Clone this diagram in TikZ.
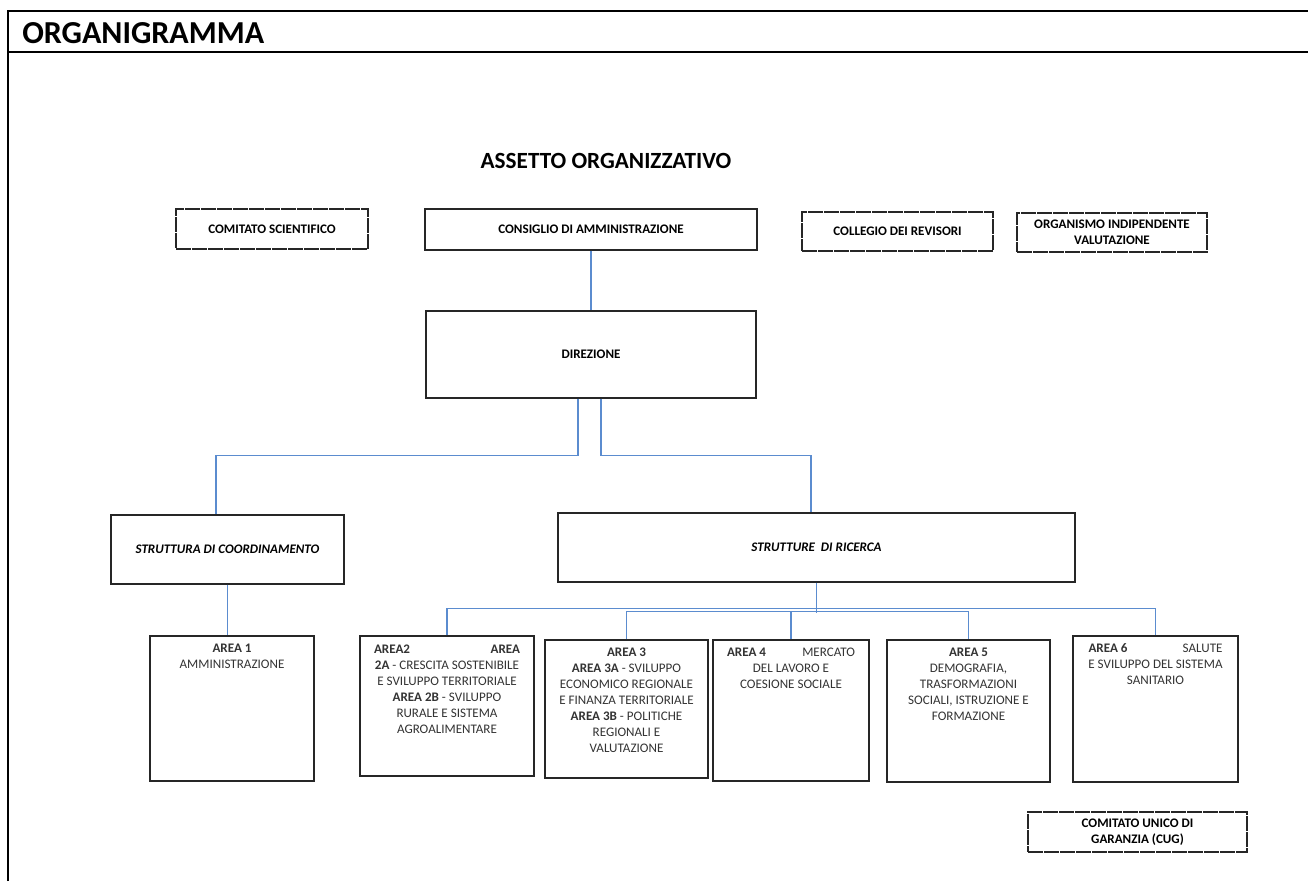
\documentclass[tikz,border=0pt]{standalone}
\usepackage{fontspec}
\setmainfont{Carlito}
\usepackage{tikz}
\usetikzlibrary{calc}

\begin{document}
\begin{tikzpicture}
		[x=0.75pt,y=-0.75pt,
		%Styles
		frame/.style={black,line width=1.9pt},
		box/.style={draw=black!85,line width=0.9pt,inner sep=0pt,align=center,font=\boxfont},
		dashbox/.style={box,dash pattern=on 11pt off 1pt},
		boxsize/.style 2 args={minimum width=#1*0.75pt,minimum height=#2*0.75pt},
		areatext/.style={anchor=north,align=center,inner sep=0pt,text=black!80,font=\areafont},
		link/.style={draw=linkblue,line width=0.8pt}
		]
		
		%Colors and fonts
		\definecolor{linkblue}{RGB}{91,140,207}	%connectors
		\newcommand{\boxfont}{\fontsize{9.8}{12}\selectfont\bfseries}
		\newcommand{\areafont}{\fontsize{9.8}{12}\selectfont}
		\newcommand{\spreadline}[3]{\makebox[#1][s]{#2\hfill #3}}
		
		\useasboundingbox (0,0) rectangle (1308,881);
		
		%Frame and titles
		\draw[frame] (8,881) -- (8,11) -- (1308,11);
		\draw[frame] (8,52) -- (1308,52);
		\node[anchor=west,inner sep=0pt,font=\fontsize{24}{28}\selectfont\bfseries] (title) at (22,33) {ORGANIGRAMMA};
		\node[font=\fontsize{17.4}{20}\selectfont\bfseries] (assetto) at (606,161) {ASSETTO ORGANIZZATIVO};
		
		%Top row
		\node[dashbox,boxsize={192}{40}] (cs) at (272,229) {COMITATO SCIENTIFICO};
		\node[box,boxsize={332}{41}] (cda) at (591,229.5) {CONSIGLIO DI AMMINISTRAZIONE};
		\node[dashbox,boxsize={191}{39}] (cr) at (897.5,231.5) {COLLEGIO DEI REVISORI};
		\node[dashbox,boxsize={190}{39}] (oiv) at (1112,232.5) {ORGANISMO INDIPENDENTE\\VALUTAZIONE};
		
		%Direction and structures
		\node[box,boxsize={330}{87}] (dir) at (591,354.5) {DIREZIONE};
		\node[box,boxsize={233}{69},font=\boxfont\itshape] (coord) at (227.5,549.5) {STRUTTURA DI COORDINAMENTO};
		\node[box,boxsize={517}{69},font=\boxfont\itshape] (ric) at (816.5,547.5) {STRUTTURE~~DI RICERCA};
		
		%Areas
		\node[box,boxsize={164}{145}] (a1) at (232,708.5) {};
		\node[box,boxsize={174}{140}] (a2) at (447,706) {};
		\node[box,boxsize={163}{138}] (a3) at (626.5,709) {};
		\node[box,boxsize={156}{141}] (a4) at (791,710.5) {};
		\node[box,boxsize={163}{142}] (a5) at (968.5,711) {};
		\node[box,boxsize={165}{146}] (a6) at (1155.5,709) {};
		\node[dashbox,boxsize={219}{40}] (cug) at (1137.5,832) {COMITATO UNICO DI\\GARANZIA (CUG)};
		
		\node[areatext] (a1txt) at ($(a1.north)+(0,8)$) {\textbf{AREA 1}\\AMMINISTRAZIONE};
		\node[areatext] (a2txt) at ($(a2.north)+(0,9)$) {\spreadline{109.5pt}{\textbf{AREA2}}{\textbf{AREA}}\\\textbf{2A} - CRESCITA SOSTENIBILE\\E SVILUPPO TERRITORIALE\\\textbf{AREA 2B} - SVILUPPO\\RURALE E SISTEMA\\AGROALIMENTARE};
		\node[areatext] (a3txt) at ($(a3.north)+(0,8)$) {\textbf{AREA 3}\\\textbf{AREA 3A} - SVILUPPO\\ECONOMICO REGIONALE\\E FINANZA TERRITORIALE\\\textbf{AREA 3B} - POLITICHE\\REGIONALI E\\VALUTAZIONE};
		\node[areatext] (a4txt) at ($(a4.north)+(0,8)$) {\spreadline{96pt}{\textbf{AREA 4}}{MERCATO}\\DEL LAVORO E\\COESIONE SOCIALE};
		\node[areatext] (a5txt) at ($(a5.north)+(0,8)$) {\textbf{AREA 5}\\DEMOGRAFIA,\\TRASFORMAZIONI\\SOCIALI, ISTRUZIONE E\\FORMAZIONE};
		\node[areatext] (a6txt) at ($(a6.north)+(0,8)$) {\spreadline{100.5pt}{\textbf{AREA 6}}{SALUTE}\\E SVILUPPO DEL SISTEMA\\SANITARIO};
		
		%Connectors
		\draw[link] (cda.south) -- (dir.north);
		\draw[link] ($(dir.south)+(-13,0)$) -- ++(0,57) -| ($(coord.north)+(-11.5,0)$);
		\draw[link] ($(dir.south)+(10,0)$) -- ++(0,57) -| ($(ric.north)+(-5.5,0)$);
		\draw[link] (coord.south) -- (coord.south |- a1.north);
		\draw[link] (ric.south) -- ++(0,30);
		\draw[link] (a2.north) -- ++(0,-27) -| (a6.north);
		\draw[link] (a3.north) -- ++(0,-28) -| (a5.north);
		\draw[link] (a4.north) -- ++(0,-28);
	\end{tikzpicture}
\end{document}
